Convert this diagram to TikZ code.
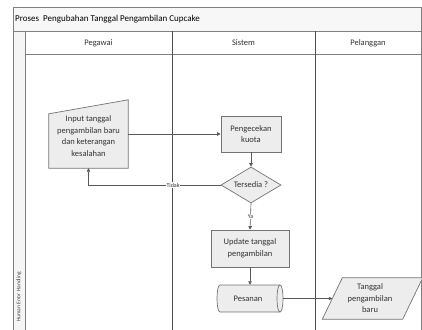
\documentclass[tikz,border=0pt]{standalone}
\usepackage{fontspec}
\setmainfont{Carlito}
\usetikzlibrary{shapes.geometric,arrows.meta}
\begin{document}
\begin{tikzpicture}[x=1pt,y=-1pt,
  frameline/.style={draw=black!50,line width=0.7pt},
  laneline/.style={draw=black!70,line width=0.8pt},
  boxstyle/.style={draw=black!55,fill=black!7,line width=0.7pt},
  boxtext/.style={font=\fontsize{8.5}{11.5}\selectfont,align=center,text=black!80},
  procbox/.style={boxstyle,boxtext,rectangle,inner sep=0pt},
  conn/.style={draw=black!65,line width=0.6pt,-{Triangle[length=3.5pt,width=3.5pt]}},
  condlabel/.style={font=\fontsize{6}{7}\selectfont,fill=white,inner sep=0.8pt,text=black!80}
]
\useasboundingbox (0,0) rectangle (422,329);
\begin{scope}
\clip (0,0) rectangle (422,329);
% frame
\fill[black!3] (13,7) rectangle (421.5,31);
\fill[black!4] (13,31) rectangle (25,340);
\draw[frameline] (13,340) -- (13,7) -- (421.5,7) -- (421.5,340);
\draw[frameline] (13,31) -- (421.5,31);
\draw[frameline] (25,54) -- (421.5,54);
\draw[frameline] (25,31) -- (25,340);
\draw[laneline] (172,31) -- (172,340);
\draw[laneline] (315,31) -- (315,340);
\end{scope}
% title and headers
\node[anchor=west,font=\fontsize{9}{10}\selectfont,inner sep=0pt] (title) at (15,19) {Proses\ \ Pengubahan Tanggal Pengambilan Cupcake};
\node[font=\fontsize{8.5}{10}\selectfont,text=black!80] (h1) at (98.5,43) {Pegawai};
\node[font=\fontsize{8.5}{10}\selectfont,text=black!80] (h2) at (243.5,43) {Sistem};
\node[font=\fontsize{8.5}{10}\selectfont,text=black!80] (h3) at (368,43) {Pelanggan};
\node[rotate=90,font=\fontsize{5.5}{6}\selectfont,text=black!75] (lanename) at (19,297) {Human Error Handling};
% input (manual input shape)
\node[rectangle,minimum width=79pt,minimum height=68pt,inner sep=0pt] (inp) at (88.5,134) {};
\draw[boxstyle] (inp.south west) -- (inp.south east) -- (inp.north east) -- ([yshift=-14pt]inp.north west) -- cycle;
\node[boxtext] (inptext) at (88.5,136) {Input tanggal\\pengambilan baru\\dan keterangan\\kesalahan};
% process boxes
\node[procbox,minimum width=60pt,minimum height=36pt] (cek) at (251,134) {Pengecekan\\kuota};
\node[diamond,boxstyle,boxtext,inner sep=0pt,aspect=1.65,minimum width=60pt,minimum height=36pt] (dia) at (251,185) {Tersedia ?};
\node[procbox,minimum width=78pt,minimum height=37pt] (upd) at (250,248.5) {Update tanggal\\pengambilan};
% stored data (horizontal cylinder)
\node[rectangle,minimum width=66pt,minimum height=27pt,inner sep=0pt] (pes) at (250,298.5) {};
\draw[boxstyle] (220,285) -- (280,285) .. controls (284,285) and (284,312) .. (280,312) -- (220,312) .. controls (216,312) and (216,285) .. (220,285) -- cycle;
\draw[draw=black!55,line width=0.7pt] (280,285) .. controls (276,285) and (276,312) .. (280,312);
\node[boxtext] (pestext) at (248,298.5) {Pesanan};
% output parallelogram
\node[rectangle,minimum width=80pt,minimum height=41pt,inner sep=0pt] (tgl) at (372.5,298.5) {};
\draw[boxstyle] ([xshift=10pt]tgl.north west) -- ([xshift=10pt]tgl.north east) -- ([xshift=-10pt]tgl.south east) -- ([xshift=-10pt]tgl.south west) -- cycle;
\node[boxtext] (tgltext) at (370,298.5) {Tanggal\\pengambilan\\baru};
% connectors
\draw[conn] (inp.east |- cek.west) -- (cek.west);
\draw[conn] (cek.south) -- (dia.north);
\draw[conn] (dia.west) -| node[condlabel,pos=0.18] {Tidak} (inp.south);
\draw[conn] (dia.south) -- node[condlabel] {Ya} (upd.north);
\draw[conn] (upd.south) -- (pes.north);
\draw[conn] (pes.east) -- (pes.east -| tgl.west);
\end{tikzpicture}
\end{document}
